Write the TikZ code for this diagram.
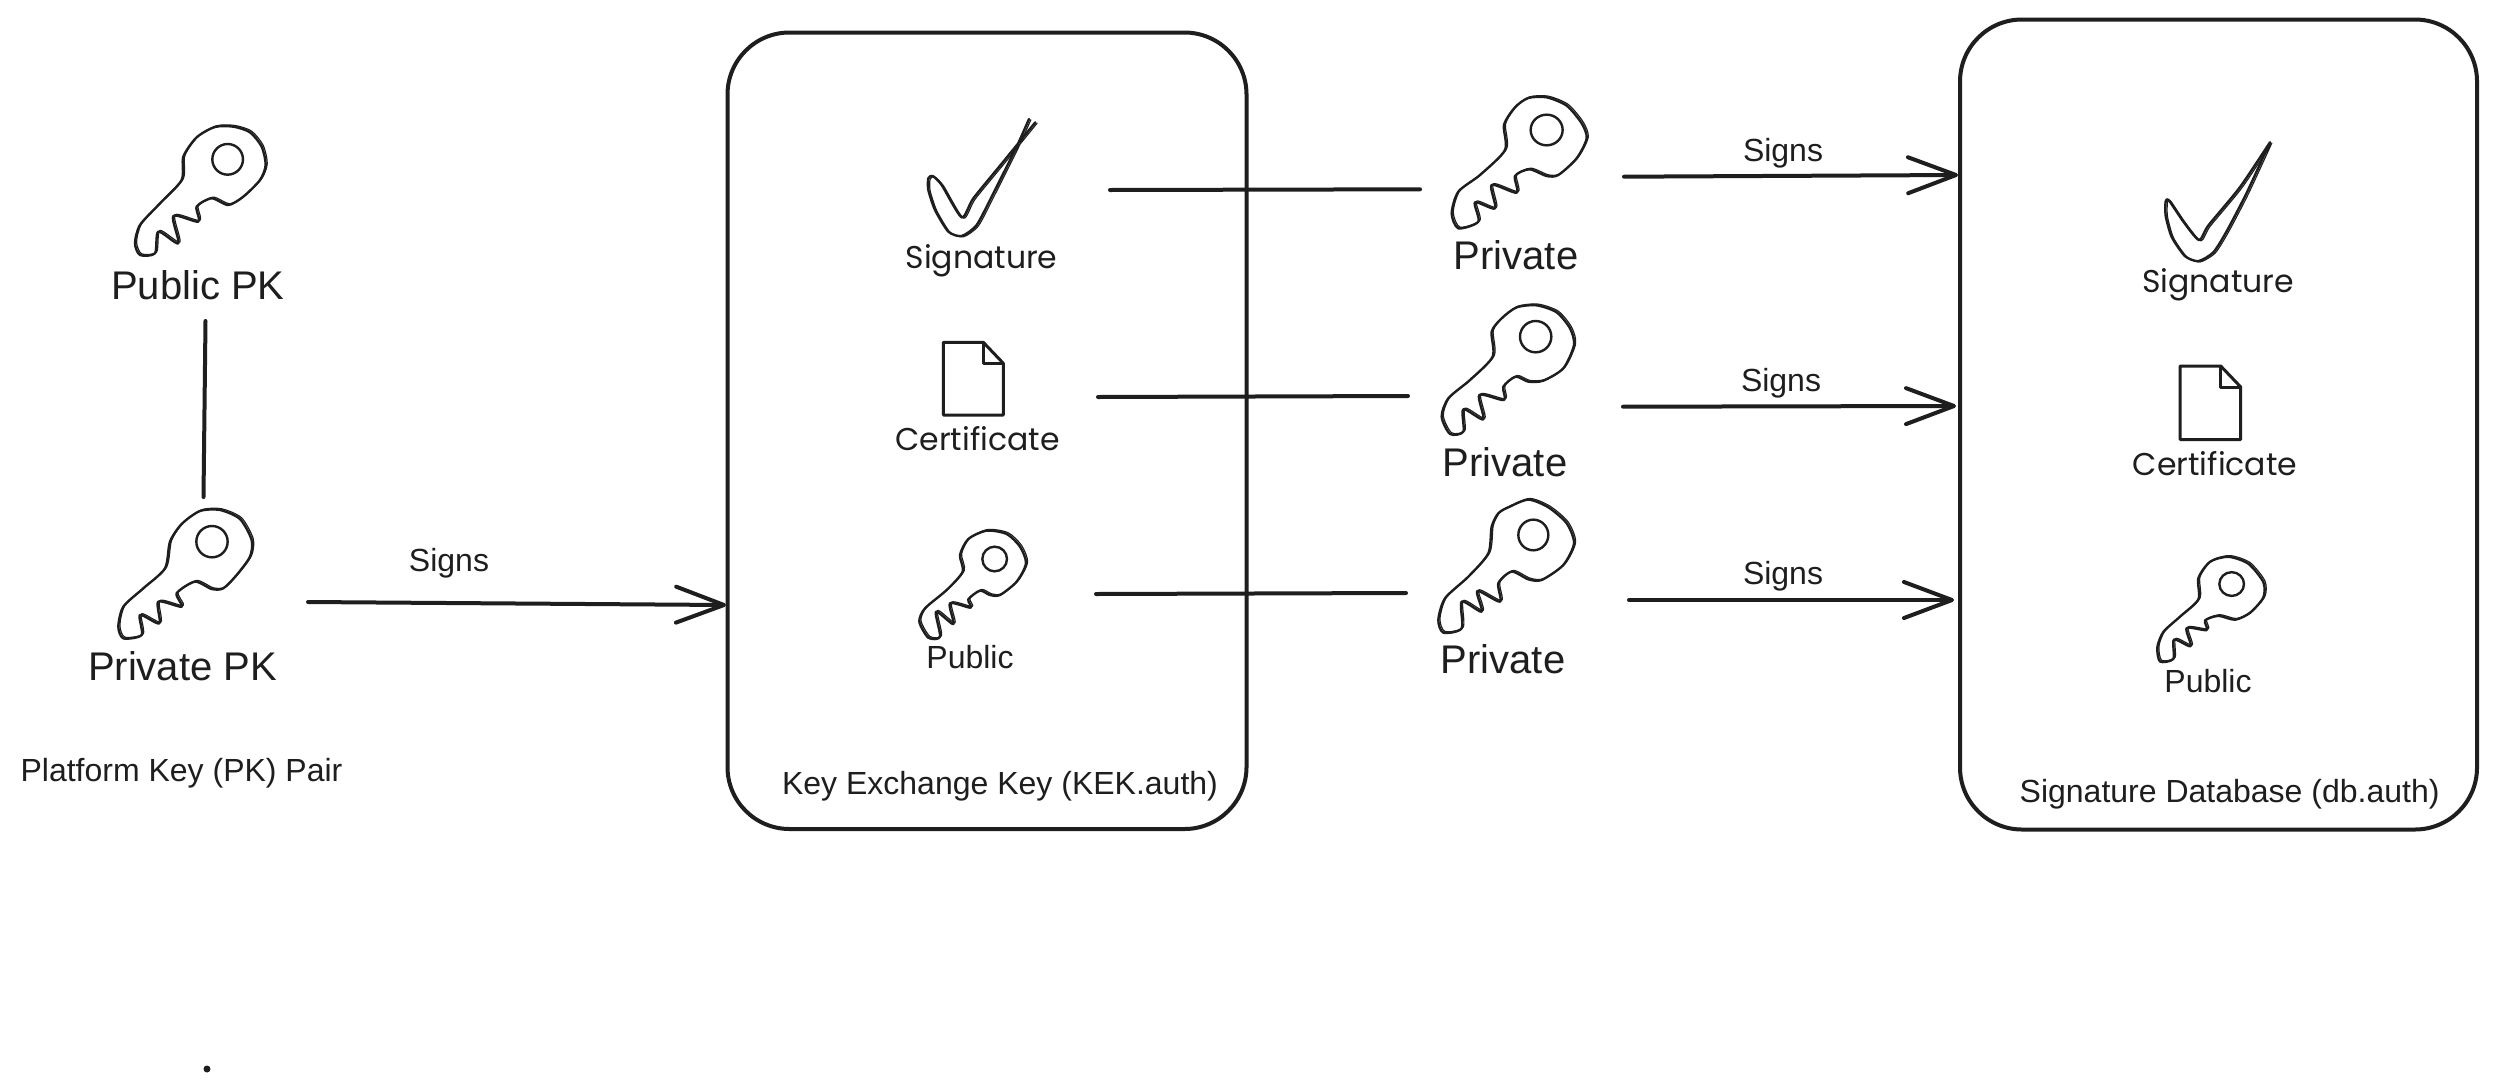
\documentclass[tikz,border=0pt]{standalone}
\usepackage{fontspec}
\setmainfont{Liberation Sans}
\newfontfamily\handfont{Poppins}
\usetikzlibrary{arrows.meta}
\definecolor{ink}{HTML}{1E1E1E}
\tikzset{
  x=1pt,y=-1pt,
  panel/.style={draw=ink,line width=4pt,rounded corners=62pt,outer sep=0pt},
  link/.style={draw=ink,line width=4pt,line cap=round},
  signarrow/.style={link,-{Straight Barb[length=48pt,width=36pt,line width=4pt,round]}},
  bigtext/.style={anchor=base,inner sep=0pt,text=ink,font=\fontsize{40}{48}\selectfont},
  smalltext/.style={anchor=base,inner sep=0pt,text=ink,font=\fontsize{32}{38}\selectfont},
  handtext/.style={anchor=base,inner sep=0pt,text=ink,font=\fontsize{31.5}{36}\handfont},
  sketch/.style={draw=ink,line width=2.4pt,line join=round,line cap=round},
  sketchthin/.style={draw=ink,line width=1.2pt,line join=round,line cap=round},
}
% key: origin x, origin y, y scale, outline points, hole x, hole y, hole radius x, hole radius y
\newcommand\keyart[8]{%
  \begin{scope}[shift={(#1,#2)},x=0.3333pt,y=-#3pt]
    \draw[sketch] plot[smooth cycle,tension=.45] coordinates {#4};
    \draw[sketchthin,xshift=1.6pt,yshift=1.2pt] plot[smooth cycle,tension=.45] coordinates {#4};
    \draw[sketch] (#5,#6) ellipse [x radius=#7,y radius=#8];
  \end{scope}}
\newcommand\checkart[4]{%
  \begin{scope}[shift={(#1,#2)},x=0.3333pt,y=-#3pt]
    \draw[sketch] plot[smooth,tension=.4] coordinates {#4};
    \draw[sketchthin,xshift=1.8pt,yshift=-0.8pt] plot[smooth,tension=.4] coordinates {#4};
  \end{scope}}
% document icon: left, top, right, bottom, fold x, fold y
\newcommand\docart[6]{%
  \draw[draw=ink,line width=3pt,line join=round] (#1,#2) -- (#5,#2) -- (#3,#6) -- (#3,#4) -- (#1,#4) -- cycle;
  \draw[draw=ink,line width=3pt,line join=round] (#5,#2) -- (#5,#6) -- (#3,#6);}
\begin{document}
\begin{tikzpicture}
\useasboundingbox (0,0) rectangle (2496,1090);
\fill[white] (0,0) rectangle (2496,1090);

% panels
\node[panel,minimum width=519pt,minimum height=796.5pt,inner sep=0pt,anchor=north west] (kek) at (727.5,32.5) {};
\node[panel,minimum width=517pt,minimum height=810pt,inner sep=0pt,anchor=north west] (db) at (1960,19.5) {};

% keys
\keyart{100}{100}{0.3333}{(345,81)(400,80)(450,97)(485,140)(497,195)(480,240)(430,290)(385,315)(335,295)(290,320)(295,365)(220,348)(235,430)(175,395)(165,460)(120,465)(105,430)(120,375)(180,310)(245,240)(250,170)(290,112)}{383}{178}{46}{46}
\keyart{100}{490}{0.3333}{(300,63)(360,60)(420,87)(455,150)(450,200)(410,255)(370,295)(335,297)(285,275)(230,310)(245,350)(175,335)(178,400)(120,375)(125,435)(70,445)(55,410)(70,350)(130,295)(195,235)(210,155)(245,102)}{336}{155}{47}{47}
\keyart{1400}{70}{0.3333}{(385,84)(440,82)(500,107)(545,160)(560,205)(530,265)(475,315)(440,318)(388,298)(345,318)(350,368)(275,345)(285,415)(225,397)(235,455)(175,475)(155,430)(175,365)(240,315)(315,240)(312,165)(345,112)}{440}{180}{48}{46}
\keyart{1400}{290}{0.3333}{(350,52)(410,46)(470,67)(510,115)(522,165)(490,235)(430,272)(385,275)(347,260)(310,290)(312,330)(238,315)(250,388)(190,358)(190,425)(150,432)(125,380)(145,325)(210,270)(278,200)(275,125)(305,85)}{407}{140}{47}{47}
\keyart{1400}{290}{0.3333}{(325,652)(385,629)(445,652)(500,700)(522,760)(490,825)(425,870)(385,868)(335,845)(295,880)(300,935)(232,903)(245,965)(185,935)(185,1015)(130,1028)(115,990)(135,925)(205,860)(265,790)(275,710)(295,670)}{400}{735}{45}{46}
\keyart{900}{510}{0.3333}{(205,87)(260,62)(320,72)(360,110)(378,160)(350,215)(300,255)(270,255)(240,242)(205,268)(212,293)(150,280)(160,342)(108,305)(120,380)(85,383)(58,335)(75,295)(140,240)(188,185)(180,135)}{284}{147}{37}{37}
\keyart{2100}{120}{0.3835}{(330,1152)(385,1139)(445,1157)(490,1205)(490,1245)(450,1285)(405,1303)(355,1293)(315,1305)(320,1330)(260,1325)(272,1372)(222,1355)(220,1405)(180,1412)(172,1375)(190,1335)(240,1295)(295,1250)(295,1195)}{395}{1210}{37}{31}

% checks
\checkart{860}{90}{0.3333}{(507,87)(470,170)(400,310)(350,405)(305,438)(265,425)(225,360)(205,300)(205,265)(218,258)(245,285)(305,382)(340,325)(430,215)(526,97)}
\checkart{2100}{120}{0.3835}{(510,58)(440,190)(380,290)(340,345)(295,368)(255,355)(215,305)(197,250)(197,212)(207,210)(250,265)(297,313)(325,275)(420,175)(510,58)}

% documents
\docart{943.3}{342.3}{1003.3}{415}{983.3}{363.3}
\docart{2180}{366}{2240.7}{439.5}{2220.7}{387}

% labels
\node[bigtext] (publicpk) at (198,299) {Public PK};
\node[bigtext] (privatepk) at (182.5,680.5) {Private PK};
\node[smalltext] (pair) at (181.5,781) {Platform Key (PK) Pair};
\node[bigtext] (priv1) at (1516,269.5) {Private};
\node[bigtext] (priv2) at (1505,476) {Private};
\node[bigtext] (priv3) at (1503,673) {Private};
\node[handtext] (sig1) at (981.5,268) {Signature};
\node[handtext] (cert1) at (977.5,450) {Certificate};
\node[smalltext] (pub1) at (970,668.5) {Public};
\node[handtext] (sig2) at (2218,292) {Signature};
\node[handtext] (cert2) at (2215,475) {Certificate};
\node[smalltext] (pub2) at (2208,692) {Public};
\node[smalltext] (kektitle) at (1000,794) {Key Exchange Key (KEK.auth)};
\node[smalltext] (dbtitle) at (2229.6,802) {Signature Database (db.auth)};
\node[smalltext] (signs0) at (449,571) {Signs};
\node[smalltext] (signs1) at (1783,161) {Signs};
\node[smalltext] (signs2) at (1781,391) {Signs};
\node[smalltext] (signs3) at (1783,584) {Signs};

% connector ends
\coordinate (pkTop) at (205.5,321);
\coordinate (pkBot) at (203.5,497);
\coordinate (pkOut) at (308,602);
\coordinate (kekIn) at (726,605);
\coordinate (l1a) at (1110,190); \coordinate (l1b) at (1420,189.3);
\coordinate (l2a) at (1098,397); \coordinate (l2b) at (1408,396);
\coordinate (l3a) at (1096,594); \coordinate (l3b) at (1406,593);
\coordinate (a1a) at (1624,176.7); \coordinate (a1b) at (1958,175);
\coordinate (a2a) at (1623,406.7); \coordinate (a2b) at (1956,406);
\coordinate (a3a) at (1629,600); \coordinate (a3b) at (1954,600);

% connectors
\draw[link] (pkTop) -- (pkBot);
\draw[signarrow] (pkOut) -- (kekIn);
\draw[link] (l1a) -- (l1b);
\draw[link] (l2a) -- (l2b);
\draw[link] (l3a) -- (l3b);
\draw[signarrow] (a1a) -- (a1b);
\draw[signarrow] (a2a) -- (a2b);
\draw[signarrow] (a3a) -- (a3b);

% stray dot
\fill[ink] (207,1069) circle [radius=3.5];
\end{tikzpicture}
\end{document}
